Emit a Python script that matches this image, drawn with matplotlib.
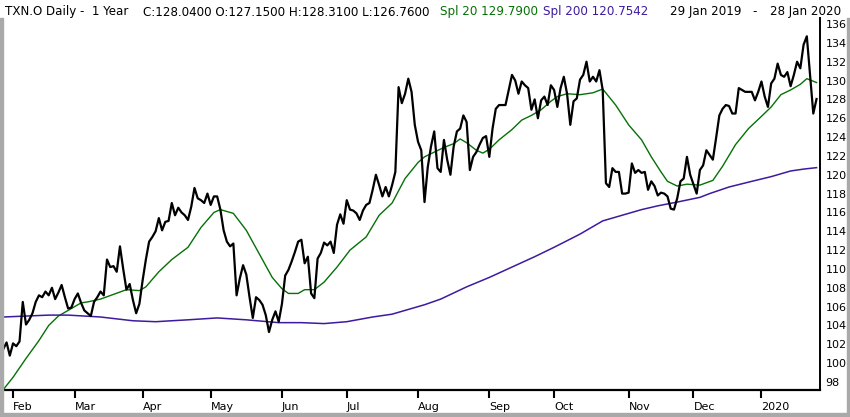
import matplotlib
matplotlib.use("Agg")
import matplotlib.pyplot as plt
from matplotlib.patches import Rectangle

# daily closes, 29 Jan 2019 .. 28 Jan 2020 (trading-day index)
close = [
    101.5, 102.2, 100.8, 102.1, 101.8, 102.3, 106.5, 104.1, 104.6, 105.3,
    106.5, 107.2, 107.0, 107.6, 107.2, 108.0, 106.8, 107.5, 108.3, 107.0,
    105.8, 105.9, 106.8, 107.4, 106.4, 105.6, 105.3, 105.0, 106.5, 107.0,
    107.6, 107.2, 111.0, 110.2, 110.3, 109.7, 112.4, 110.0, 107.8, 108.4,
    106.7, 105.3, 106.3,
    108.8, 111.0, 112.9, 113.4, 114.0, 115.4, 114.1, 115.0, 115.1, 117.0,
    115.7, 116.5, 116.0, 115.7, 115.2, 116.6, 118.6, 117.5, 117.3, 117.0,
    118.0, 116.8, 117.7, 117.7, 116.3, 114.1, 112.9, 112.4, 112.7, 107.2,
    109.0, 110.4, 109.4, 107.0, 104.8, 107.0, 106.7, 106.2, 105.1, 103.3,
    104.6, 105.5, 104.4, 106.3, 109.3,
    109.9, 110.8, 111.8, 112.9, 113.1, 110.6, 111.3, 107.4, 106.9, 111.1,
    111.7, 112.8, 112.5, 112.9, 111.7, 114.7, 115.8, 114.8, 117.3, 116.3,
    116.2, 115.9, 115.2, 116.2, 116.8, 117.0, 118.4, 120.0, 118.9, 117.7,
    118.7, 117.7, 118.9, 120.3, 129.3, 127.6, 128.6, 130.2, 128.8, 125.3,
    123.5, 122.6, 117.1,
    120.8, 123.0, 124.6, 120.7, 120.3, 123.7, 121.6, 120.0, 123.0, 124.6,
    124.9, 126.3, 125.6, 120.5, 121.9, 122.4, 123.2, 123.9, 124.1, 121.9,
    124.9, 127.0, 127.4, 127.4, 127.4, 129.0, 130.6, 130.0, 128.6, 129.9,
    129.5, 129.2, 126.9, 128.0, 126.0, 127.9, 128.3, 127.4, 129.5, 129.0,
    127.2,
    129.2, 130.4, 128.6, 125.3, 127.8, 128.1, 130.1, 130.6, 132.0, 129.9,
    130.4, 129.9, 131.1, 129.0, 119.1, 118.7, 120.7, 120.3, 120.3, 118.0,
    118.0, 118.1, 121.2, 120.2, 120.5, 120.2, 120.3, 118.4, 119.3, 118.8,
    117.8, 118.1, 118.0, 117.7, 116.4, 116.3, 117.5, 119.3, 119.6, 121.9,
    120.0, 119.0, 118.0, 120.5,
    121.0, 122.6, 122.1, 121.6, 123.9, 126.3, 127.0, 127.4, 127.3, 126.5,
    126.5, 129.2, 129.0, 128.8, 128.8, 128.8, 127.9, 128.8, 129.9, 128.3,
    127.2, 129.7, 130.2, 131.8, 130.6, 130.4, 130.9, 129.4, 130.6, 132.0,
    131.3, 133.8, 134.7, 130.6, 126.5, 128.04,
]

# 20-day simple average
spl20_x = [0, 3, 7, 11, 14, 17, 20, 24, 26, 30, 34, 38, 42, 44, 48, 52, 57, 61,
           65, 67, 71, 75, 79, 83, 86, 88, 91, 93, 96, 99, 103, 107, 112, 116,
           120, 124, 128, 130, 133, 136, 139, 141, 143, 146, 148, 150, 153, 157,
           160, 163, 166, 169, 171, 174, 178, 182, 185, 189, 193, 197, 200, 203,
           205, 208, 211, 215, 219, 222, 226, 230, 234, 237, 240, 243, 246, 248, 251]
spl20_y = [97.2, 98.5, 100.5, 102.4, 104.0, 105.0, 105.6, 106.4, 106.5, 106.8,
           107.3, 107.8, 107.7, 108.1, 109.7, 111.0, 112.3, 114.4, 116.0, 116.3,
           115.9, 114.1, 111.6, 109.1, 107.9, 107.4, 107.4, 107.8, 107.8, 108.6,
           110.2, 112.0, 113.4, 115.7, 117.0, 119.6, 121.3, 121.9, 122.4, 122.9,
           123.3, 123.8, 123.4, 122.6, 122.3, 122.7, 123.7, 124.8, 125.8, 126.3,
           126.9, 127.8, 128.3, 128.6, 128.5, 128.7, 129.1, 127.4, 125.3, 123.7,
           121.9, 120.3, 119.3, 118.8, 119.0, 118.9, 119.4, 120.9, 123.2, 124.9,
           126.2, 127.2, 128.5, 129.0, 129.6, 130.2, 129.79]

# 200-day simple average
spl200_x = [0, 14, 20, 30, 40, 47, 57, 66, 75, 85, 92, 99, 106, 114, 120, 130,
            135, 143, 150, 157, 164, 170, 178, 185, 192, 197, 202, 208, 215, 218,
            224, 231, 237, 243, 247, 251]
spl200_y = [104.9, 105.1, 105.1, 104.9, 104.5, 104.4, 104.6, 104.8, 104.6, 104.3,
            104.3, 104.2, 104.4, 104.9, 105.2, 106.2, 106.8, 108.1, 109.1, 110.2,
            111.3, 112.3, 113.7, 115.1, 115.8, 116.3, 116.7, 117.1, 117.6, 118.0,
            118.7, 119.3, 119.8, 120.4, 120.6, 120.7542]

month_pos = [3, 22, 43, 64, 86, 106, 128, 150, 170, 193, 213, 234]
month_lab = ["Feb", "Mar", "Apr", "May", "Jun", "Jul", "Aug", "Sep", "Oct",
             "Nov", "Dec", "2020"]
price_ticks = list(range(98, 137, 2))

W, H = 850, 417
fig = plt.figure(figsize=(W / 100, H / 100), dpi=100)
ax = fig.add_axes([3 / W, 27 / H, 817 / W, 372 / H])

ax.plot(range(len(close)), close, color="black", lw=1.6, zorder=3)
ax.plot(spl20_x, spl20_y, color="#067006", lw=1.0, zorder=2)
ax.plot(spl200_x, spl200_y, color="#3d1a9e", lw=1.1, zorder=2)

ax.set_xlim(-0.1, 252.07)
ax.set_ylim(97.15, 136.64)

for s in ["top", "left"]:
    ax.spines[s].set_visible(False)
ax.spines["bottom"].set_linewidth(1.6)
ax.spines["right"].set_linewidth(1.4)

ax.set_xticks(month_pos)
ax.set_xticklabels(month_lab, ha="left", fontsize=8)
ax.tick_params(axis="x", direction="out", length=6, width=1.5, pad=2.5)
ax.yaxis.tick_right()
ax.set_yticks(price_ticks)
ax.set_yticklabels([str(v) for v in price_ticks], fontsize=8)
ax.tick_params(axis="y", length=0, pad=4)

# gray frame round the chart area
for x0, y0, w, h in [(0, 0, 3, H - 18), (0, 0, W, 4), (W - 3, 0, 3, H - 18)]:
    fig.patches.append(Rectangle((x0 / W, y0 / H), w / W, h / H,
                                 transform=fig.transFigure, color="#a9a9a9"))

ty = 1 - 12 / H
fs = 8.6
fig.text(5 / W, ty, "TXN.O Daily -  1 Year", fontsize=fs, va="center")
fig.text(143 / W, ty, "C:128.0400 O:127.1500 H:128.3100 L:126.7600",
         fontsize=fs, va="center")
fig.text(440 / W, ty, "Spl 20 129.7900", fontsize=fs, va="center", color="#067006")
fig.text(543 / W, ty, "Spl 200 120.7542", fontsize=fs, va="center", color="#3d1a9e")
fig.text(670 / W, ty, "29 Jan 2019", fontsize=fs, va="center")
fig.text(752 / W, ty, "-", fontsize=fs, va="center")
fig.text(770 / W, ty, "28 Jan 2020", fontsize=fs, va="center")

fig.savefig("out.png", dpi=100)
